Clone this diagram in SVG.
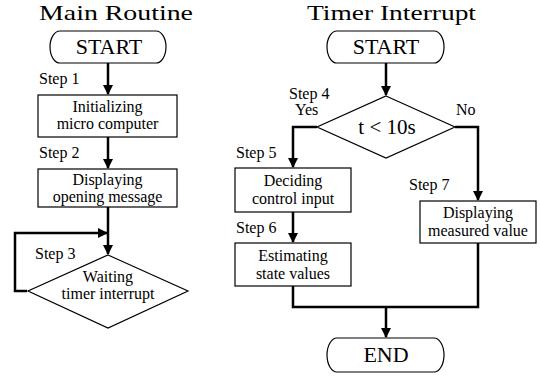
<svg xmlns="http://www.w3.org/2000/svg" width="540" height="378" viewBox="0 0 540 378" font-family="'Liberation Serif', 'Times New Roman', Tinos, 'Nimbus Roman', 'DejaVu Serif', serif">
<style>
text{font-family:"Liberation Serif","Times New Roman",Tinos,"Nimbus Roman","DejaVu Serif",serif;fill:#000}
.title{font-size:22px;text-anchor:middle}
.term{font-size:22px;text-anchor:middle}
.tt{font-size:21px;text-anchor:middle}
.body{font-size:16px;text-anchor:middle}
.step{font-size:16px}
.shape{fill:#fff;stroke:#000;stroke-width:1.2}
.conn{fill:none;stroke:#000;stroke-width:2.5}
</style>
<defs>
<marker id="ah" viewBox="0 0 10 10" markerWidth="10" markerHeight="11" refX="9" refY="5" orient="auto" markerUnits="userSpaceOnUse">
<path d="M0,0 L10,5 L0,10 Z" fill="#000"/>
</marker>
</defs>
<rect width="540" height="378" fill="#fff"/>
<text class="title" x="116" y="20" textLength="154" lengthAdjust="spacingAndGlyphs">Main Routine</text>
<text class="title" x="391.5" y="20" textLength="169" lengthAdjust="spacingAndGlyphs">Timer Interrupt</text>

<g id="connectors">
<path class="conn" d="M108,63 V94" marker-end="url(#ah)"/>
<path class="conn" d="M108,137 V168" marker-end="url(#ah)"/>
<path class="conn" d="M108,207 V254" marker-end="url(#ah)"/>
<path class="conn" d="M27,291 H15 V233 H107" marker-end="url(#ah)"/>
<path class="conn" d="M386,63 V95" marker-end="url(#ah)"/>
<path class="conn" d="M317,127 H293 V167" marker-end="url(#ah)"/>
<path class="conn" d="M455,127 H478 V200" marker-end="url(#ah)"/>
<path class="conn" d="M293,212 V242" marker-end="url(#ah)"/>
<path class="conn" d="M293,286 V307 H478 V243"/>
<path class="conn" d="M386,307 V337" marker-end="url(#ah)"/>
</g>

<g id="main-start">
<path class="shape" d="M60,31 H156 A10,16 0 0 1 156,63 H60 A10,16 0 0 1 60,31 Z"/>
<text class="term" x="109" y="54">START</text>
</g>
<g id="step1">
<text class="step" x="39" y="84">Step 1</text>
<rect class="shape" x="38" y="95" width="139" height="42"/>
<text class="body" x="107.5" y="112">Initializing</text>
<text class="body" x="107.5" y="129">micro computer</text>
</g>
<g id="step2">
<text class="step" x="39" y="158">Step 2</text>
<rect class="shape" x="38" y="169" width="139" height="38"/>
<text class="body" x="107.5" y="185">Displaying</text>
<text class="body" x="107.5" y="202">opening message</text>
</g>
<g id="step3">
<text class="step" x="35" y="259">Step 3</text>
<path class="shape" d="M108,255 L188,291 L108,328 L28,291 Z"/>
<text class="body" x="108" y="282">Waiting</text>
<text class="body" x="108" y="299">timer interrupt</text>
</g>

<g id="timer-start">
<path class="shape" d="M337,31 H434 A10,16 0 0 1 434,63 H337 A10,16 0 0 1 337,31 Z"/>
<text class="term" x="386" y="54">START</text>
</g>
<g id="step4">
<text class="step" x="289" y="99">Step 4</text>
<text class="step" x="295" y="115">Yes</text>
<text class="step" x="456" y="115">No</text>
<path class="shape" d="M386,96 L455,127 L386,158 L317,127 Z"/>
<text class="tt" x="387" y="134">t &lt; 10s</text>
</g>
<g id="step5">
<text class="step" x="236" y="158">Step 5</text>
<rect class="shape" x="235" y="168" width="116" height="44"/>
<text class="body" x="293" y="186">Deciding</text>
<text class="body" x="293" y="204">control input</text>
</g>
<g id="step6">
<text class="step" x="236" y="233">Step 6</text>
<rect class="shape" x="235" y="243" width="116" height="43"/>
<text class="body" x="293" y="261">Estimating</text>
<text class="body" x="293" y="279">state values</text>
</g>
<g id="step7">
<text class="step" x="409" y="190">Step 7</text>
<rect class="shape" x="420" y="201" width="116" height="42"/>
<text class="body" x="478" y="218">Displaying</text>
<text class="body" x="478" y="236">measured value</text>
</g>
<g id="end">
<path class="shape" d="M337,338 H434 A10,17 0 0 1 434,372 H337 A10,17 0 0 1 337,338 Z"/>
<text class="term" x="386" y="362">END</text>
</g>
</svg>
